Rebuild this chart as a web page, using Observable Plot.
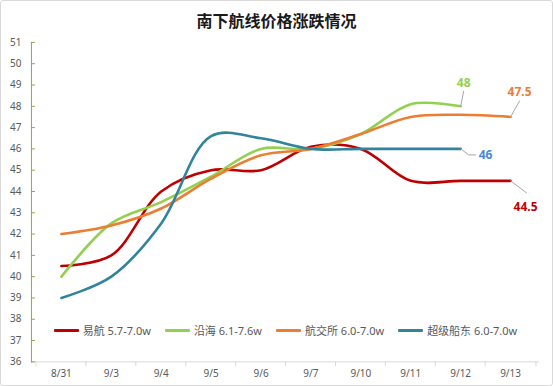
<!DOCTYPE html>
<html><head><meta charset="utf-8">
<script src="https://cdn.jsdelivr.net/npm/d3@7"></script>
<script src="https://cdn.jsdelivr.net/npm/@observablehq/plot@0.6"></script>
<style>
body{margin:0;background:#fff;}
#wrap{position:relative;width:553px;height:386px;box-sizing:border-box;border:1px solid #d9d9d9;border-radius:3px;overflow:hidden;background:#fff;font-family:"Noto Sans","Noto Sans CJK SC",sans-serif;}
#chart{position:absolute;left:-1px;top:-1px;}
#title{position:absolute;left:-1px;top:7px;width:553px;text-align:center;font:700 16px "Noto Sans CJK SC",sans-serif;color:#1a1a1a;}
#legend{position:absolute;left:30px;width:509px;top:321px;display:flex;justify-content:center;gap:14px;font-size:11px;color:#595959;font-family:"Noto Sans","Noto Sans CJK SC",sans-serif;}
.item{display:flex;align-items:center;white-space:nowrap;}
.sw{display:inline-block;width:25px;height:3px;margin-right:4px;border-radius:1px;}
</style>
</head><body>
<div id="wrap"><div id="chart"></div><div id="title"></div><div id="legend"></div></div>
<script>
const title = "南下航线价格涨跌情况";
const dates = ["8/31","9/3","9/4","9/5","9/6","9/7","9/10","9/11","9/12","9/13"];
const seriesNames = ["易航 5.7-7.0w","沿海 6.1-7.6w","航交所 6.0-7.0w","超级船东 6.0-7.0w"];
const colors = ["#C00000","#92D050","#ED7D31","#31849B"];
const yihang = [40.5, 41, 44, 45, 45, 46.1, 46, 44.5, 44.5, 44.5];
const yanhai = [40, 42.5, 43.5, 44.7, 46, 46, 46.7, 48.1, 48, null];
const hangjiaosuo = [42, 42.4, 43.2, 44.6, 45.7, 46, 46.7, 47.5, 47.6, 47.5];
const chaoji = [39, 40, 42.5, 46.6, 46.5, 46, 46, 46, 46, null];
const yTicks = [36,37,38,39,40,41,42,43,44,45,46,47,48,49,50,51];

const seriesValues = [yihang, yanhai, hangjiaosuo, chaoji];
const rows = [];
seriesNames.forEach((s, k) => seriesValues[k].forEach((v, i) => {
  if (v != null) rows.push({series: s, date: dates[i], value: v});
}));

// end labels
const endLabels = [
  {series: seriesNames[1], date: "9/12", value: 48, text: "48", color: "#92D050"},
  {series: seriesNames[2], date: "9/13", value: 47.5, text: "47.5", color: "#ED7D31"},
  {series: seriesNames[3], date: "9/12", value: 46, text: "46", color: "#4A86D8"},
  {series: seriesNames[0], date: "9/13", value: 44.5, text: "44.5", color: "#C00000"}
];
const labelLayout = [
  {dx: 3, dy: -23, anchor: "middle", path: [[0,0],[3,-15]]},
  {dx: 9, dy: -25, anchor: "middle", path: [[0,0],[9,-16]]},
  {dx: 18, dy: 6, anchor: "start", path: [[0,0],[8,6],[15,6]]},
  {dx: 15, dy: 26, anchor: "middle", path: [[0,0],[16,12]]}
];

const W = 553, H = 386, ML = 31, MR = 13, MT = 42, MB = 24;
const step = (W - ML - MR) / dates.length;
const axisGreen = "#8EA74E";

const labelMarks = [];
endLabels.forEach((d, k) => {
  const L = labelLayout[k];
  labelMarks.push(Plot.vector([d], {
    x: "date", y: "value", length: 1, rotate: 0, anchor: "start",
    stroke: "#a6a6a6", strokeWidth: 1,
    shape: {draw(ctx) { L.path.forEach(([px, py], j) => j ? ctx.lineTo(px, py) : ctx.moveTo(px, py)); }}
  }));
  labelMarks.push(Plot.text([d], {
    x: "date", y: "value", text: "text", dx: L.dx, dy: L.dy, textAnchor: L.anchor,
    fill: d.color, fontWeight: "bold", fontSize: 12
  }));
});

const plot = Plot.plot({
  width: W, height: H, marginLeft: ML, marginRight: MR, marginTop: MT, marginBottom: MB,
  style: {fontFamily: '"Noto Sans","Noto Sans CJK SC",sans-serif', fontSize: "10px", color: "#595959", background: "transparent"},
  x: {type: "point", domain: dates, padding: 0.5},
  y: {domain: [36, 51]},
  color: {domain: seriesNames, range: colors},
  marks: [
    Plot.ruleY([36], {stroke: "#d9d9d9"}),
    Plot.axisX({tickSize: 0, tickPadding: 8, label: null, fill: "#595959"}),
    Plot.axisX(dates, {tickSize: 5, dx: -step / 2, tickFormat: () => "", stroke: "#d9d9d9", label: null}),
    Plot.axisX([dates[dates.length - 1]], {tickSize: 5, dx: step / 2, tickFormat: () => "", stroke: "#d9d9d9", label: null}),
    Plot.axisY(yTicks, {tickSize: 0, tickPadding: 10, label: null, fill: "#595959"}),
    Plot.tickY(yTicks, {y: d => d, stroke: axisGreen, insetRight: W - ML - MR - 4}),
    Plot.frame({anchor: "left", stroke: axisGreen}),
    Plot.line(rows, {x: "date", y: "value", z: "series", stroke: "series", strokeWidth: 2.6, curve: "catmull-rom"}),
    ...labelMarks
  ]
});
document.getElementById("chart").appendChild(plot);
document.getElementById("title").textContent = title;
const leg = document.getElementById("legend");
seriesNames.forEach((s, k) => {
  const it = document.createElement("div"); it.className = "item";
  const sw = document.createElement("span"); sw.className = "sw"; sw.style.background = colors[k];
  it.appendChild(sw); it.appendChild(document.createTextNode(s));
  leg.appendChild(it);
});
</script>
</body></html>
